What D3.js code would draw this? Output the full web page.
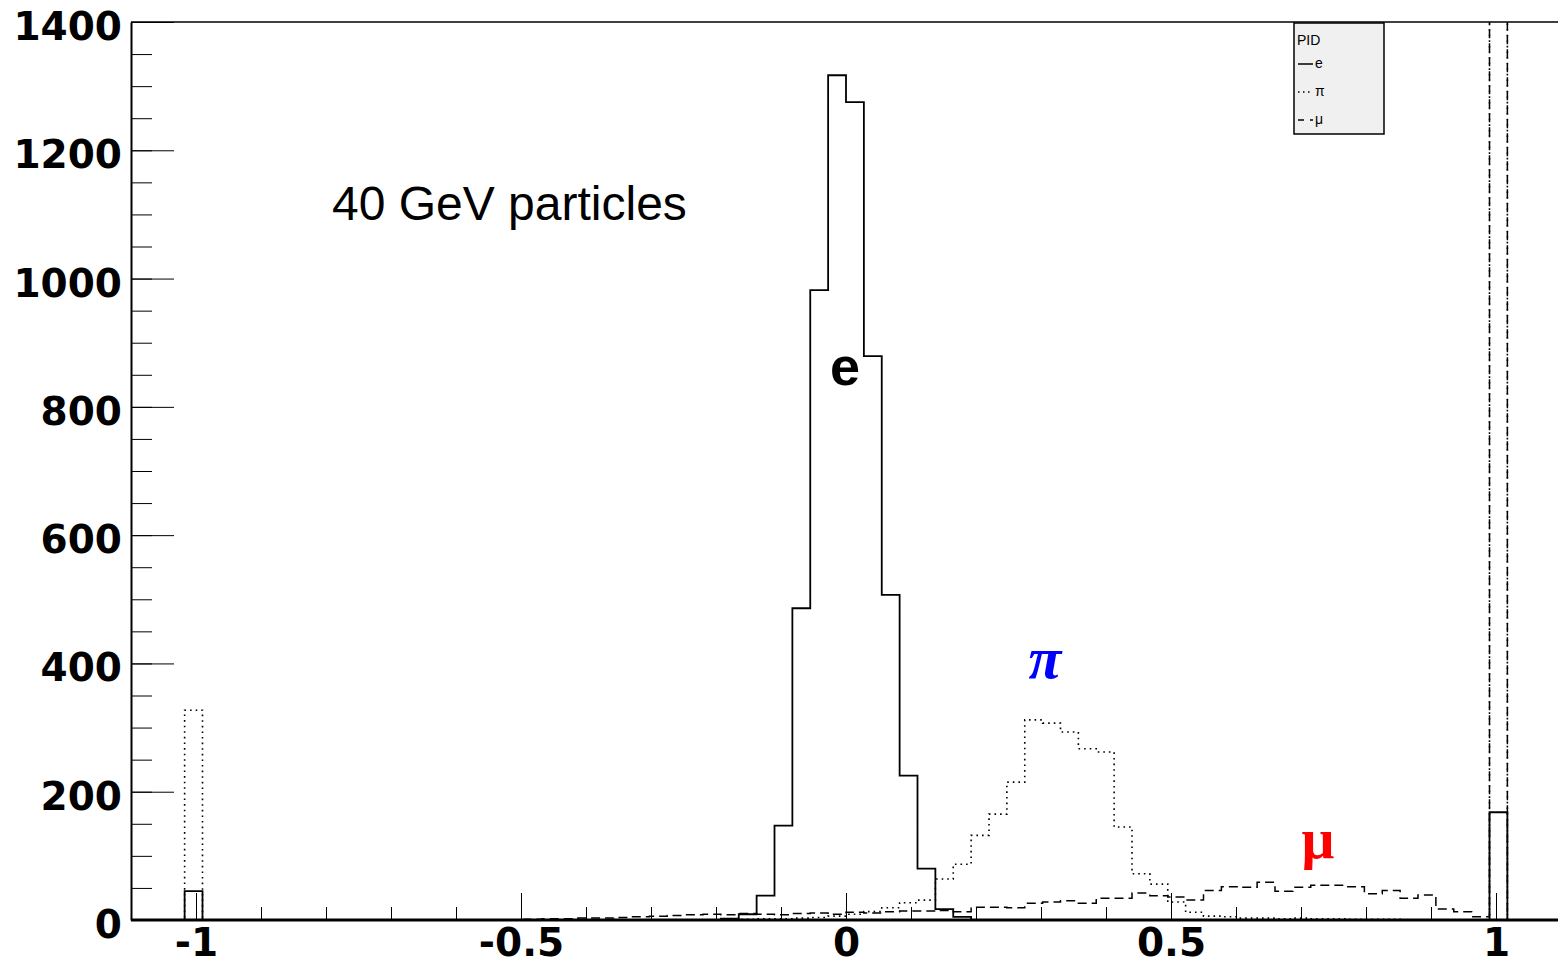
<!DOCTYPE html>
<html>
<head>
<meta charset="utf-8">
<script src="https://cdn.jsdelivr.net/npm/d3@7"></script>
<style>
  body { margin: 0; background: #fff; }
  svg { display: block; }
</style>
</head>
<body>
<script type="text/javascript">
    const Width = 1558;
    const Height = 968;

    // histogram binning: 80 bins from -1.1 to 1.1
    const xMin = -1.1, xMax = 1.1, nBins = 80;

    // bin contents (index 0..79)
    const eCounts = [
      0, 0, 0, 45, 0, 0, 0, 0, 0, 0,
      0, 0, 0, 0, 0, 0, 0, 0, 0, 0,
      0, 0, 0, 0, 0, 0, 0, 0, 0, 0,
      0, 0, 0, 2, 9, 38, 147, 486, 982, 1317,
      1275, 879, 507, 225, 80, 17, 5, 0, 0, 0,
      0, 0, 0, 0, 0, 0, 0, 0, 0, 0,
      0, 0, 0, 0, 0, 0, 0, 0, 0, 0,
      0, 0, 0, 0, 0, 0, 168, 0, 0, 0
    ];
    const piCounts = [
      0, 0, 0, 327, 0, 0, 0, 0, 0, 0,
      0, 0, 0, 0, 0, 0, 0, 0, 0, 0,
      0, 0, 0, 0, 0, 0, 0, 0, 0, 0,
      0, 0, 0, 1, 1, 2, 2, 3, 4, 6,
      9, 13, 19, 27, 31, 64, 87, 132, 165, 215,
      312, 307, 293, 267, 262, 145, 72, 56, 28, 12,
      6, 5, 3, 3, 2, 3, 2, 2, 1, 1,
      1, 0, 0, 0, 0, 0, 2500, 0, 0, 0
    ];
    const muCounts = [
      0, 0, 0, 0, 0, 0, 0, 0, 0, 0,
      0, 0, 0, 0, 0, 0, 0, 0, 0, 0,
      0, 0, 1, 2, 2, 3, 3, 4, 5, 6,
      7, 8, 9, 8, 10, 9, 8, 10, 11, 9,
      12, 11, 13, 14, 14, 15, 13, 20, 20, 19,
      26, 28, 30, 26, 34, 34, 42, 38, 36, 31,
      46, 52, 51, 59, 45, 51, 54, 54, 52, 41,
      46, 34, 39, 17, 13, 5, 3000, 0, 0, 0
    ];

    const xLabels = [-1, -0.5, 0, 0.5, 1];
    const yLabels = [0, 200, 400, 600, 800, 1000, 1200, 1400];

    const svg = d3.select("body")
     .append("svg")
     .attr("width", Width)
     .attr("height", Height);

    const x = d3.scaleLinear().domain([xMin, xMax]).range([131, 1561]);
    const y = d3.scaleLinear().domain([0, 1400]).range([920, 22]);

    const binW = (xMax - xMin) / nBins;

    // clip to the frame (some bins go off scale)
    svg.append("clipPath").attr("id", "frame")
     .append("rect")
     .attr("x", x(xMin)).attr("y", y(1400))
     .attr("width", x(xMax) - x(xMin)).attr("height", y(0) - y(1400));

    function steps(counts) {
      const pts = counts.map((v, i) => [xMin + i * binW, v]);
      pts.push([xMax, counts[counts.length - 1]]);
      return pts;
    }

    const line = d3.line()
     .x(d => x(d[0]))
     .y(d => y(d[1]))
     .curve(d3.curveStepAfter);

    const plot = svg.append("g").attr("clip-path", "url(#frame)");

    const series = [
      { data: muCounts, dash: "9 5", width: 1.5 },
      { data: piCounts, dash: "1.6 4", width: 1.6 },
      { data: eCounts, dash: null, width: 1.8 }
    ];

    plot.selectAll("path.hist")
     .data(series)
     .enter()
     .append("path")
     .attr("class", "hist")
     .attr("d", d => line(steps(d.data)))
     .attr("fill", "none")
     .attr("stroke", "#000")
     .attr("stroke-width", d => d.width)
     .attr("stroke-dasharray", d => d.dash);

    // frame top
    svg.append("line")
     .attr("x1", x(xMin)).attr("x2", Width)
     .attr("y1", y(1400)).attr("y2", y(1400))
     .attr("stroke", "#000").attr("stroke-width", 1.5);

    // y axis: minor + major ticks pointing inward
    svg.append("g")
     .attr("transform", `translate(${x(xMin)},0)`)
     .call(d3.axisRight(y).tickValues(d3.range(0, 1401, 50)).tickSize(21).tickFormat(""))
     .call(g => g.select(".domain").remove());
    svg.append("g")
     .attr("transform", `translate(${x(xMin)},0)`)
     .call(d3.axisRight(y).tickValues(yLabels).tickSize(43).tickFormat(""))
     .call(g => g.select(".domain").remove());
    svg.append("g")
     .attr("transform", `translate(${x(xMin)},0)`)
     .call(d3.axisLeft(y).tickValues(yLabels).tickSize(0).tickPadding(9).tickFormat(d3.format("d")))
     .call(g => g.select(".domain").attr("stroke-width", 2))
     .call(g => g.selectAll("text")
        .attr("dy", "0.45em")
        .attr("font-family", "DejaVu Sans")
        .attr("font-weight", "bold")
        .attr("font-size", 39)
        .attr("fill", "#000"));

    // x axis: minor ticks every 0.1, major every 0.5
    svg.append("g")
     .attr("transform", `translate(0,${y(0)})`)
     .call(d3.axisTop(x).tickValues(d3.range(-10, 11).map(d => d / 10)).tickSize(13).tickFormat(""))
     .call(g => g.select(".domain").remove());
    svg.append("g")
     .attr("transform", `translate(0,${y(0)})`)
     .call(d3.axisTop(x).tickValues(xLabels).tickSize(27).tickFormat(""))
     .call(g => g.select(".domain").remove());
    svg.append("g")
     .attr("transform", `translate(0,${y(0)})`)
     .call(d3.axisBottom(x).tickValues(xLabels).tickSize(0).tickPadding(8).tickFormat(d => d3.format("")(d).replace("−", "-")))
     .call(g => g.select(".domain").attr("stroke-width", 3).attr("d", `M${x(xMin)},0H${Width}`))
     .call(g => g.selectAll("text")
        .attr("font-family", "DejaVu Sans")
        .attr("font-weight", "bold")
        .attr("font-size", 39)
        .attr("fill", "#000"));

    // annotations
    svg.append("text")
     .attr("x", 332).attr("y", 220)
     .attr("font-family", "Liberation Sans, Arial, sans-serif")
     .attr("font-size", 48)
     .text("40 GeV particles");

    svg.append("text")
     .attr("x", 845).attr("y", 385)
     .attr("text-anchor", "middle")
     .attr("font-family", "Liberation Sans, Arial, sans-serif")
     .attr("font-weight", "bold")
     .attr("font-size", 54)
     .text("e");

    svg.append("text")
     .attr("x", 1045).attr("y", 678)
     .attr("text-anchor", "middle")
     .attr("font-family", "Liberation Serif, serif")
     .attr("font-weight", "bold")
     .attr("font-style", "italic")
     .attr("font-size", 60)
     .attr("fill", "#0000ff")
     .text("π");

    svg.append("text")
     .attr("x", 1318).attr("y", 858)
     .attr("text-anchor", "middle")
     .attr("font-family", "Liberation Serif, serif")
     .attr("font-weight", "bold")
     .attr("font-size", 58)
     .attr("fill", "#ff0000")
     .text("μ");

    // legend
    const leg = svg.append("g");
    leg.append("rect")
     .attr("x", 1294).attr("y", 23)
     .attr("width", 90).attr("height", 111)
     .attr("fill", "#f0f0f0")
     .attr("stroke", "#000").attr("stroke-width", 1.5);
    leg.append("text")
     .attr("x", 1297).attr("y", 45)
     .attr("font-family", "Liberation Sans, Arial, sans-serif")
     .attr("font-size", 14)
     .text("PID");

    const legItems = [
      { label: "e", dash: null, yy: 64 },
      { label: "π", dash: "1.5 3.5", yy: 92 },
      { label: "μ", dash: "6 6", yy: 120 }
    ];
    leg.selectAll("line.item")
     .data(legItems)
     .enter()
     .append("line")
     .attr("class", "item")
     .attr("x1", 1298).attr("x2", 1313)
     .attr("y1", d => d.yy).attr("y2", d => d.yy)
     .attr("stroke", "#000").attr("stroke-width", 1.5)
     .attr("stroke-dasharray", d => d.dash);
    leg.selectAll("text.item")
     .data(legItems)
     .enter()
     .append("text")
     .attr("class", "item")
     .attr("x", 1315).attr("y", d => d.yy + 4)
     .attr("font-family", "Liberation Sans, Arial, sans-serif")
     .attr("font-size", 14)
     .text(d => d.label);
    </script>
</body>
</html>
